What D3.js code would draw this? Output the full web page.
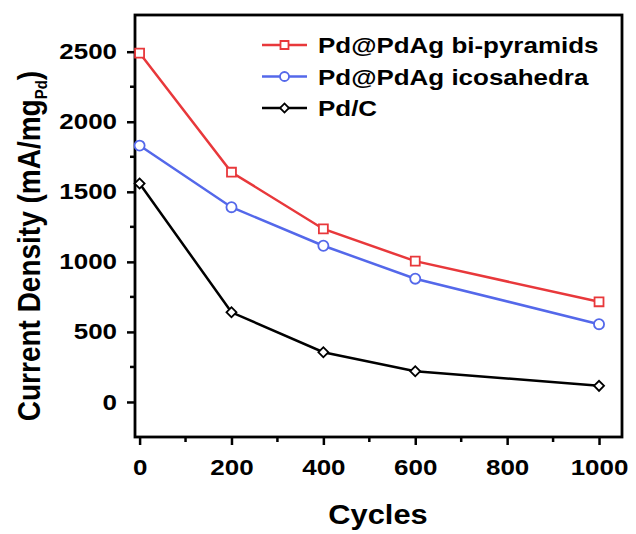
<!DOCTYPE html>
<html><head><meta charset="utf-8">
<script src="https://cdn.jsdelivr.net/npm/d3@7"></script>
<style>
body{margin:0;background:#fff;}
text{font-family:"Liberation Sans",Arial,sans-serif;font-weight:bold;fill:#000;}
</style></head>
<body><svg id="c" width="636" height="534"></svg>
<script>
const cycles = [0, 200, 400, 600, 1000];
const bipyramids = [2490, 1640, 1235, 1005, 715];
const icosahedra = [1830, 1390, 1115, 880, 555];
const pdc = [1560, 640, 355, 220, 115];
const seriesNames = ["Pd@PdAg bi-pyramids", "Pd@PdAg icosahedra", "Pd/C"];
const xTicks = [0, 200, 400, 600, 800, 1000];
const yTicks = [0, 500, 1000, 1500, 2000, 2500];

const svg = d3.select("#c");
const L = 135, R = 622, T = 15, B = 437;
const x = d3.scaleLinear().domain([-10, 1050]).range([L, R]);
const y = d3.scaleLinear().domain([-250, 2762]).range([B, T]);
const SX = 1.18;

// frame
svg.append("rect").attr("x", L).attr("y", T).attr("width", R - L).attr("height", B - T)
  .attr("fill", "none").attr("stroke", "#000").attr("stroke-width", 2.8);

// x axis
const gx = svg.append("g").attr("transform", `translate(0,${B})`);
gx.call(d3.axisBottom(x).tickValues(xTicks).tickSize(8).tickPadding(14).tickFormat(d3.format("d")));
gx.select(".domain").remove();
gx.selectAll(".tick line").attr("stroke-width", 2.5);
gx.selectAll(".tick text").style("font-size", "22px").attr("dy", "0.71em")
  .attr("transform", `scale(${SX},1)`).attr("x", 0);
const xMinor = d3.range(100, 1000, 200);
gx.selectAll(".minor").data(xMinor).enter().append("line")
  .attr("x1", d => x(d)).attr("x2", d => x(d)).attr("y1", 0).attr("y2", 5)
  .attr("stroke", "#000").attr("stroke-width", 2.5);

// y axis
const gy = svg.append("g").attr("transform", `translate(${L},0)`);
gy.call(d3.axisLeft(y).tickValues(yTicks).tickSize(8).tickPadding(10).tickFormat(d3.format("d")));
gy.select(".domain").remove();
gy.selectAll(".tick line").attr("stroke-width", 2.5);
gy.selectAll(".tick text").style("font-size", "22px")
  .attr("transform", `scale(${SX},1)`).attr("x", -18 / SX);
const yMinor = d3.range(250, 2500, 500);
gy.selectAll(".minor").data(yMinor).enter().append("line")
  .attr("y1", d => y(d)).attr("y2", d => y(d)).attr("x1", 0).attr("x2", -5)
  .attr("stroke", "#000").attr("stroke-width", 2.5);

// titles
svg.append("text").attr("transform", `translate(378,524) scale(1.1,1)`)
  .attr("text-anchor", "middle").style("font-size", "28px").text("Cycles");
const yt = svg.append("text").attr("transform", `translate(40,246) scale(1.1,1) rotate(-90)`)
  .attr("text-anchor", "middle").style("font-size", "28px");
yt.append("tspan").text("Current Density (mA/mg");
yt.append("tspan").attr("dy", 6).style("font-size", "15px").text("Pd");
yt.append("tspan").attr("dy", -6).text(")");

// series
const series = [
  {name: seriesNames[0], vals: bipyramids, color: "#e8383b", sym: d3.symbolSquare, size: 80, rot: 0},
  {name: seriesNames[1], vals: icosahedra, color: "#5468ea", sym: d3.symbolCircle, size: 80, rot: 0},
  {name: seriesNames[2], vals: pdc, color: "#000000", sym: d3.symbolSquare, size: 50, rot: 45}
];
const line = d3.line().x((d, i) => x(cycles[i])).y(d => y(d));
series.forEach(s => {
  svg.append("path").datum(s.vals).attr("d", line).attr("fill", "none")
    .attr("stroke", s.color).attr("stroke-width", 2.5);
  svg.selectAll(null).data(s.vals).enter().append("path")
    .attr("d", d3.symbol().type(s.sym).size(s.size))
    .attr("transform", (d, i) => `translate(${x(cycles[i])},${y(d)}) rotate(${s.rot})`)
    .attr("fill", "#fff").attr("stroke", s.color).attr("stroke-width", 1.8);
});

// legend
const lg = svg.append("g");
series.forEach((s, i) => {
  const cy = 45 + i * 31.5;
  lg.append("line").attr("x1", 262).attr("x2", 307).attr("y1", cy).attr("y2", cy)
    .attr("stroke", s.color).attr("stroke-width", 2.5);
  lg.append("path").attr("d", d3.symbol().type(s.sym).size(s.size * 0.8))
    .attr("transform", `translate(284.5,${cy}) rotate(${s.rot})`)
    .attr("fill", "#fff").attr("stroke", s.color).attr("stroke-width", 1.8);
  lg.append("text").attr("transform", `translate(318,${cy + 8}) scale(${SX},1)`)
    .style("font-size", "22px").text(s.name);
});
</script></body></html>
